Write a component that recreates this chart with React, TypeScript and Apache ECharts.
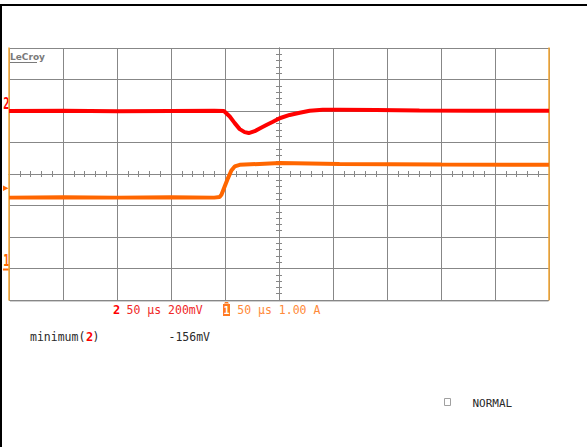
import React, { useEffect, useRef } from "react";
import * as echarts from "echarts";

// time relative to screen centre, µs (50 µs/div)
const timeMin = -250;
const timeMax = 250;
const timeStep = 50;

// Channel 2 (red): voltage, mV (200 mV/div)
const ch2Time = [-250, -200, -150, -100, -60, -51, -45.6, -41, -36.4, -31.8, -28, -22.5, -17.9, -11.7, -5.6, 0.6, 9.9, 19.2, 28.4, 40.5, 56, 90, 130, 180, 250];
const ch2mV = [0, 1, -1, 0, 1, 0, -35, -77, -115, -134, -140, -128, -111, -89, -68, -46, -25, -11, 2, 8, 8, 6, 3, 2, 1];

// Channel 1 (orange): current, A (1.00 A/div)
const ch1Time = [-250, -200, -150, -100, -60, -55, -53.3, -50.3, -47.2, -44.1, -41, -36.4, -18, 0.6, 56, 150, 250];
const ch1Amp = [2.25, 2.26, 2.25, 2.26, 2.25, 2.27, 2.34, 2.6, 2.87, 3.11, 3.24, 3.29, 3.32, 3.35, 3.32, 3.3, 3.29];

const ch2Min = -1200, ch2Max = 400, ch2Step = 200;
const ch1Min = -1, ch1Max = 7, ch1Step = 1;

const ch2Label = "50 µs 200mV";
const ch1Label = "50 µs 1.00 A";
const measureName = "minimum(";
const measureValue = "-156mV";
const modeLabel = "NORMAL";

const GRID = "#878787";
const EDGE = "#f4a630";
const RED = "#ff0000";
const ORANGE = "#ff6600";
const MONO = "'DejaVu Sans Mono', monospace";

export default function App() {
  const ref = useRef<HTMLDivElement>(null);
  useEffect(() => {
    if (!ref.current) return;
    const chart = echarts.init(ref.current, null, { renderer: "svg" });
    const minor = { show: true, splitNumber: 5, length: 3, lineStyle: { color: GRID, width: 1 } };
    const hiddenBase = { axisTick: { show: false }, axisLabel: { show: false } };
    chart.setOption({
      animation: false,
      backgroundColor: "#ffffff",
      grid: { left: 9, right: 38, top: 48, bottom: 147, containLabel: false },
      xAxis: [
        {
          type: "value", min: timeMin, max: timeMax, interval: timeStep, position: "bottom",
          axisLine: { show: true, onZero: true, onZeroAxisIndex: 0, lineStyle: { color: GRID, width: 1 } },
          minorTick: minor, ...hiddenBase,
          splitLine: { show: true, lineStyle: { color: GRID, width: 1 } },
        },
        {
          type: "value", min: timeMin, max: timeMax, interval: timeStep, position: "top",
          axisLine: { show: true, onZero: true, onZeroAxisIndex: 0, lineStyle: { color: GRID, width: 1 } },
          minorTick: minor, ...hiddenBase,
          splitLine: { show: false },
        },
      ],
      yAxis: [
        {
          type: "value", min: -4, max: 4, interval: 1, position: "left",
          axisLine: { show: true, onZero: true, onZeroAxisIndex: 0, lineStyle: { color: GRID, width: 1 } },
          minorTick: minor, ...hiddenBase,
          splitLine: { show: true, lineStyle: { color: GRID, width: 1 } },
        },
        {
          type: "value", min: ch2Min, max: ch2Max, interval: ch2Step, position: "left", z: 1,
          axisLine: { show: true, onZero: false, lineStyle: { color: EDGE, width: 1.5 } },
          ...hiddenBase, splitLine: { show: false },
        },
        {
          type: "value", min: ch1Min, max: ch1Max, interval: ch1Step, position: "right", z: 1,
          axisLine: { show: true, onZero: false, lineStyle: { color: EDGE, width: 1.5 } },
          ...hiddenBase, splitLine: { show: false },
        },
        {
          type: "value", min: -4, max: 4, interval: 1, position: "right",
          axisLine: { show: true, onZero: true, onZeroAxisIndex: 0, lineStyle: { color: GRID, width: 1 } },
          minorTick: minor, ...hiddenBase,
          splitLine: { show: false },
        },
      ],
      series: [
        {
          type: "line", xAxisIndex: 0, yAxisIndex: 1, showSymbol: false, symbol: "none",
          data: ch2Time.map((t, i) => [t, ch2mV[i]]),
          lineStyle: { color: RED, width: 4 }, z: 3,
        },
        {
          type: "line", xAxisIndex: 0, yAxisIndex: 2, showSymbol: false, symbol: "none",
          data: ch1Time.map((t, i) => [t, ch1Amp[i]]),
          lineStyle: { color: ORANGE, width: 4 }, z: 3,
        },
      ],
      graphic: [
        // outer black frame
        { type: "line", shape: { x1: 0, y1: 5, x2: 587, y2: 5 }, style: { stroke: "#000", lineWidth: 2 } },
        { type: "line", shape: { x1: 1, y1: 4, x2: 1, y2: 447 }, style: { stroke: "#000", lineWidth: 2 } },
        // grey bottom edge of the screen
        { type: "line", z: 5, shape: { x1: 10, y1: 300.5, x2: 548.5, y2: 300.5 }, style: { stroke: GRID, lineWidth: 1 } },
        { type: "line", z: 5, shape: { x1: 10, y1: 301.5, x2: 548.5, y2: 301.5 }, style: { stroke: "#d0d0d0", lineWidth: 1 } },
        // LeCroy logo
        { type: "text", x: 10, y: 57, style: { text: "LeCroy", fill: "#7a7a7a", font: "bold 9px 'DejaVu Sans'", textVerticalAlign: "middle" } },
        { type: "line", shape: { x1: 10, y1: 62.5, x2: 37, y2: 62.5 }, style: { stroke: "#7a7a7a", lineWidth: 1 } },
        // left channel markers
        { type: "text", x: 2.5, y: 104, scaleX: 0.7, originX: 2.5, originY: 104, style: { text: "2", fill: RED, font: `bold 15px ${MONO}`, textVerticalAlign: "middle" } },
        { type: "polygon", shape: { points: [[3, 185.5], [8.5, 188.3], [3, 191]] }, style: { fill: ORANGE } },
        { type: "text", x: 2.5, y: 261, scaleX: 0.7, originX: 2.5, originY: 261, style: { text: "1", fill: ORANGE, font: `bold 15px ${MONO}`, textVerticalAlign: "middle" } },
        { type: "line", shape: { x1: 3, y1: 269.5, x2: 9, y2: 269.5 }, style: { stroke: ORANGE, lineWidth: 2 } },
        // bottom channel labels
        { type: "text", x: 113, y: 309.5, style: { text: "2", fill: RED, font: `bold 12px ${MONO}`, textVerticalAlign: "middle" } },
        { type: "text", x: 126.5, y: 309.5, style: { text: ch2Label, fill: "#f02828", font: `11.5px ${MONO}`, textVerticalAlign: "middle" } },
        { type: "polygon", shape: { points: [[224, 303.5], [226.5, 300], [229, 303.5]] }, style: { fill: "#ff7a20" } },
        { type: "rect", shape: { x: 223, y: 304, width: 7, height: 12 }, style: { fill: "#ff7a20" } },
        { type: "text", x: 226.5, y: 310, style: { text: "1", fill: "#ffffff", font: `bold 10px ${MONO}`, textAlign: "center", textVerticalAlign: "middle" } },
        { type: "text", x: 237.3, y: 309.5, style: { text: ch1Label, fill: "#ff8a3a", font: `11.5px ${MONO}`, textVerticalAlign: "middle" } },
        // measurement
        { type: "text", x: 30, y: 337, style: { text: measureName, fill: "#2a2a2a", font: `11.5px ${MONO}`, textVerticalAlign: "middle" } },
        { type: "text", x: 86, y: 337, style: { text: "2", fill: RED, font: `bold 12px ${MONO}`, textVerticalAlign: "middle" } },
        { type: "text", x: 92.5, y: 337, style: { text: ")", fill: "#2a2a2a", font: `11.5px ${MONO}`, textVerticalAlign: "middle" } },
        { type: "text", x: 168.5, y: 337, style: { text: measureValue, fill: "#2a2a2a", font: `11.5px ${MONO}`, textVerticalAlign: "middle" } },
        // trigger mode
        { type: "rect", shape: { x: 444.5, y: 398.5, width: 6, height: 7 }, style: { fill: "none", stroke: "#a0a0a0", lineWidth: 1 } },
        { type: "text", x: 472.5, y: 403, style: { text: modeLabel, fill: "#2a2a2a", font: `11px ${MONO}`, textVerticalAlign: "middle" } },
      ],
    });
    return () => chart.dispose();
  }, []);
  return <div ref={ref} style={{ position: "absolute", left: 0, top: 0, width: 587, height: 447, background: "#fff" }} />;
}
